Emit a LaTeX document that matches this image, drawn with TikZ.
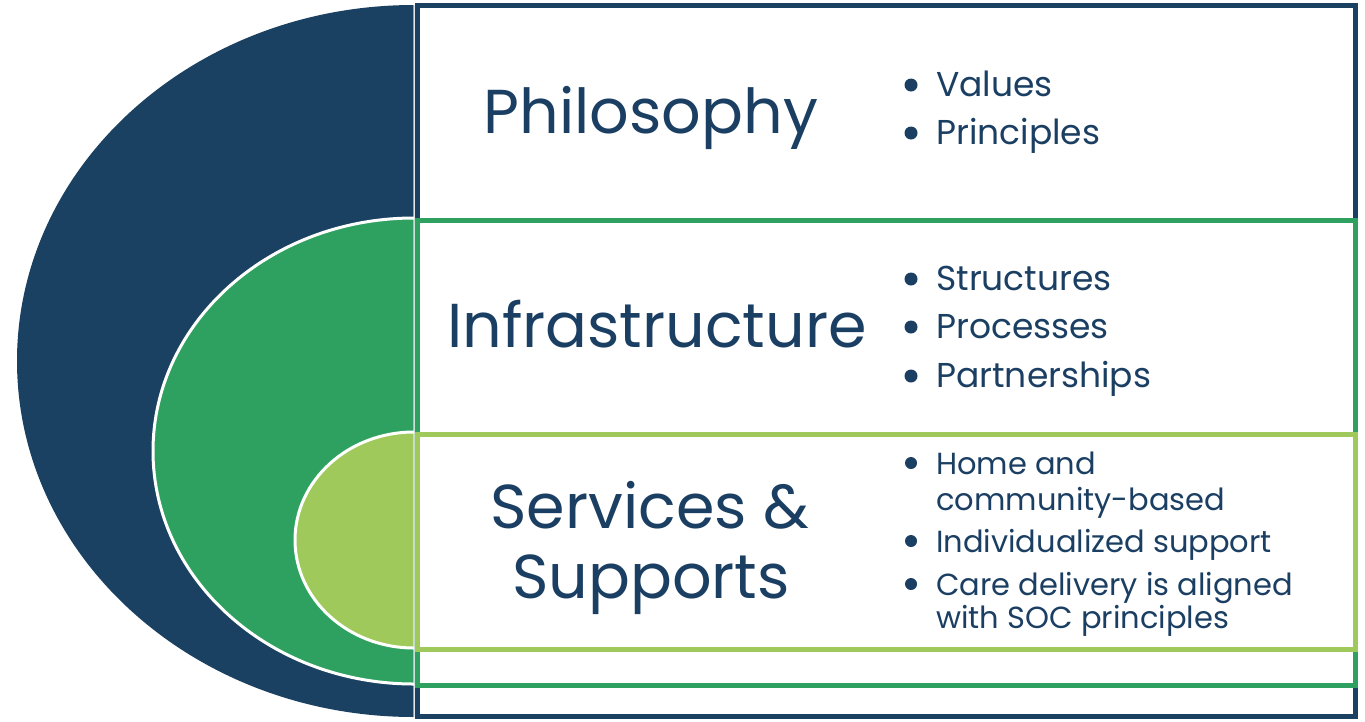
\documentclass[tikz,border=0pt]{standalone}
\usepackage{fontspec}
\setmainfont{Poppins}
\usepackage{tikz}
\usetikzlibrary{positioning}
\definecolor{socnavy}{HTML}{1B4162}
\definecolor{socgreen}{HTML}{2EA160}
\definecolor{soclime}{HTML}{9FCA5B}
\definecolor{soctext}{HTML}{1B3F63}

\begin{document}
\begin{tikzpicture}[x=1pt,y=-1pt,
		head/.style={text=soctext,font=\fontsize{62}{70}\selectfont,anchor=base,inner sep=0pt},
		item/.style={text=soctext,font=\fontsize{34.5}{38}\selectfont,anchor=base west,inner sep=0pt},
		subitem/.style={item,font=\fontsize{30.5}{34}\selectfont},
		box/.style={line width=5pt,fill=white}]
			\useasboundingbox[fill=white] (0,0) rectangle (1365,721);
			% half ellipses
			\fill[socnavy] (414,5) arc[start angle=270,end angle=90,x radius=397,y radius=356] -- cycle;
			\filldraw[fill=socgreen,draw=white,line width=3pt] (414,218) arc[start angle=270,end angle=90,x radius=261,y radius=233];
			\filldraw[fill=soclime,draw=white,line width=3pt] (414,432) arc[start angle=270,end angle=90,x radius=119,y radius=108];
			% boxes
			\draw[box,draw=socnavy] (417,5) rectangle (1355,716);
			\draw[box,draw=socgreen] (417,220) rectangle (1355,685);
			\draw[box,draw=soclime] (417,434) rectangle (1355,649);
			\draw[white,opacity=.5,line width=1pt] (413.5,5) -- (413.5,718);
			% headings
			\node[head] (philo) at (651,133) {Philosophy};
			\node[head] (infra) at (657,347) {Infrastructure};
			\node[head] (serv) at (650,528) {Services \&};
			\node[head] (supp) at (651,598) {Supports};
			% bullets
			\foreach \name/\y/\txt in {values/96/Values,principles/144/Principles,structures/290/Structures,processes/338/Processes,partners/387/Partnerships} {
				\fill[soctext] (911,\y-11) circle (6.5);
				\node[item] (\name) at (936,\y) {\txt};
			}
			\foreach \name/\y/\txt in {home/474/Home and,indiv/552/Individualized support,care/595/Care delivery is aligned} {
				\fill[soctext] (911,\y-11) circle (6);
				\node[subitem] (\name) at (936,\y) {\txt};
			}
			\node[subitem] (community) at (936,510) {community-based};
			\node[subitem] (withsoc) at (936,628) {with SOC principles};
		\end{tikzpicture}
\end{document}
